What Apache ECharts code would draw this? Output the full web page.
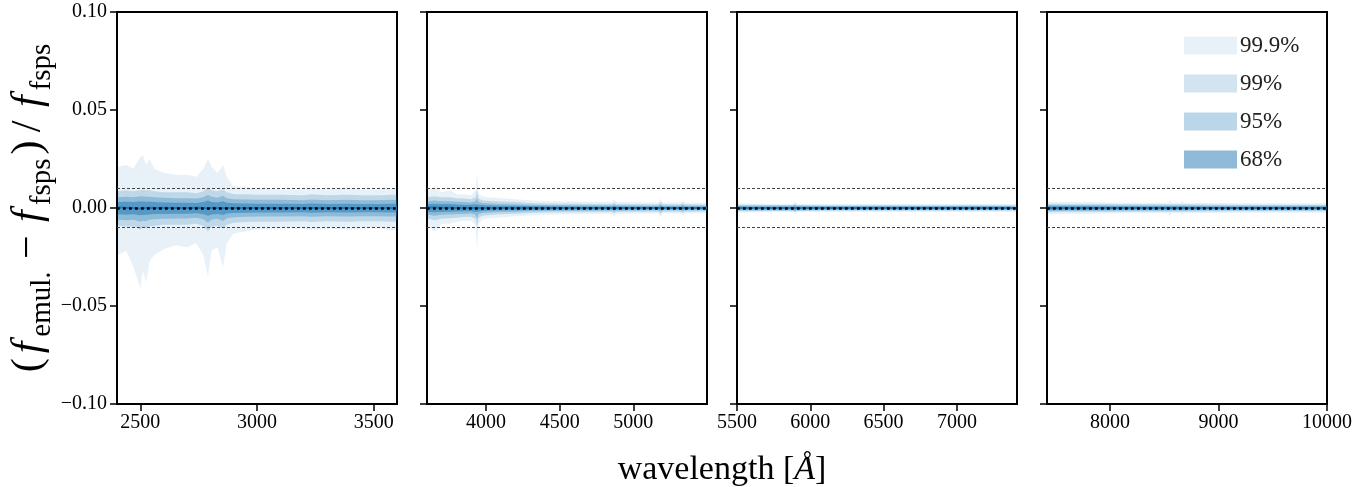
<!DOCTYPE html>
<html>
<head>
<meta charset="utf-8">
<script src="https://cdn.jsdelivr.net/npm/echarts@6/dist/echarts.min.js"></script>
<style>
  html, body { margin: 0; padding: 0; background: #fff; }
  #chart { width: 1366px; height: 487px; }
</style>
</head>
<body>
<div id="chart"></div>
<script>
// band levels (legend)
const levels = ['99.9%', '99%', '95%', '68%'];

// panel x ranges [min, max] and labelled ticks
const xMins = [2400, 3600, 5500, 7420];
const xMaxs = [3600, 5500, 7410, 10000];
const xTicks = [
  [2500, 3000, 3500],
  [4000, 4500, 5000],
  [5500, 6000, 6500, 7000],
  [8000, 9000, 10000]
];
const yTicks = [-0.10, -0.05, 0.00, 0.05, 0.10];

// ---- panel 1 (2400 - 3600)
const wave1 = [2404, 2440, 2470, 2500, 2511, 2525, 2540, 2560, 2600, 2650, 2700, 2740, 2770, 2790, 2805, 2830, 2855, 2870, 2900, 2950, 3000, 3100, 3200, 3230, 3300, 3390, 3450, 3520, 3585, 3600];
const up999_1 = [0.021, 0.022, 0.020, 0.026, 0.027, 0.022, 0.025, 0.020, 0.018, 0.017, 0.017, 0.016, 0.020, 0.025, 0.021, 0.018, 0.022, 0.016, 0.011, 0.0105, 0.010, 0.0095, 0.0095, 0.0105, 0.0095, 0.0105, 0.0095, 0.0095, 0.010, 0.0095];
const lo999_1 = [-0.024, -0.022, -0.030, -0.041, -0.032, -0.038, -0.027, -0.024, -0.021, -0.019, -0.020, -0.018, -0.024, -0.035, -0.022, -0.020, -0.030, -0.018, -0.013, -0.012, -0.011, -0.0105, -0.0105, -0.011, -0.0105, -0.011, -0.0105, -0.010, -0.0115, -0.0105];
const up99_1 = [0.0085, 0.009, 0.0085, 0.009, 0.0095, 0.009, 0.009, 0.0085, 0.008, 0.008, 0.008, 0.0075, 0.0085, 0.0105, 0.009, 0.0085, 0.0095, 0.008, 0.007, 0.007, 0.0068, 0.0068, 0.0065, 0.007, 0.0065, 0.0068, 0.0065, 0.0065, 0.0068, 0.0065];
const lo99_1 = [-0.009, -0.0095, -0.0095, -0.011, -0.010, -0.0105, -0.0095, -0.009, -0.0085, -0.0085, -0.0085, -0.008, -0.009, -0.012, -0.0095, -0.009, -0.0105, -0.0085, -0.0075, -0.0072, -0.007, -0.007, -0.0068, -0.0072, -0.0068, -0.007, -0.0068, -0.0068, -0.007, -0.0068];
const up95_1 = [0.0055, 0.0058, 0.0055, 0.006, 0.006, 0.0058, 0.0058, 0.0055, 0.0052, 0.005, 0.005, 0.0048, 0.0055, 0.0068, 0.0058, 0.0052, 0.0062, 0.005, 0.0045, 0.0044, 0.0042, 0.0042, 0.004, 0.0043, 0.004, 0.0042, 0.004, 0.004, 0.0042, 0.004];
const lo95_1 = [-0.006, -0.0062, -0.006, -0.007, -0.0065, -0.0068, -0.006, -0.0058, -0.0055, -0.0053, -0.0053, -0.005, -0.0058, -0.0075, -0.006, -0.0055, -0.0066, -0.0052, -0.0047, -0.0045, -0.0044, -0.0044, -0.0042, -0.0045, -0.0042, -0.0044, -0.0042, -0.0042, -0.0044, -0.0042];
const up68_1 = [0.003, 0.0032, 0.003, 0.0034, 0.0033, 0.0032, 0.0032, 0.003, 0.0028, 0.0027, 0.0027, 0.0026, 0.003, 0.0038, 0.0031, 0.0028, 0.0034, 0.0027, 0.0024, 0.0023, 0.0022, 0.0022, 0.0021, 0.0023, 0.0021, 0.0022, 0.0021, 0.0021, 0.0022, 0.0021];
const lo68_1 = [-0.0032, -0.0034, -0.0032, -0.0037, -0.0035, -0.0035, -0.0033, -0.0031, -0.003, -0.0029, -0.0029, -0.0027, -0.0032, -0.004, -0.0033, -0.003, -0.0036, -0.0028, -0.0025, -0.0024, -0.0023, -0.0023, -0.0022, -0.0024, -0.0022, -0.0023, -0.0022, -0.0022, -0.0023, -0.0022];
const med1 = [0.0002, 0.0001, 0.0, -0.0002, 0.0001, 0.0, 0.0001, 0.0, 0.0001, 0.0, 0.0, 0.0001, 0.0, -0.0003, 0.0001, 0.0, -0.0001, 0.0, 0.0, 0.0, 0.0, 0.0, 0.0, 0.0, 0.0, 0.0, 0.0, 0.0, 0.0, 0.0];

// ---- panel 2 (3600 - 5500)
const wave2 = [3605, 3650, 3700, 3760, 3800, 3850, 3900, 3930, 3940, 3950, 3975, 4000, 4100, 4200, 4300, 4400, 4600, 4800, 4855, 4870, 4885, 5100, 5170, 5185, 5200, 5320, 5335, 5350, 5450, 5500];
const up999_2 = [0.009, 0.011, 0.008, 0.009, 0.007, 0.007, 0.0065, 0.009, 0.0185, 0.007, 0.006, 0.0055, 0.005, 0.0045, 0.004, 0.0035, 0.0033, 0.003, 0.003, 0.0045, 0.003, 0.0028, 0.0028, 0.0048, 0.0028, 0.0028, 0.004, 0.0028, 0.0027, 0.0027];
const lo999_2 = [-0.009, -0.012, -0.008, -0.008, -0.007, -0.0065, -0.0065, -0.009, -0.021, -0.008, -0.006, -0.0055, -0.0048, -0.0042, -0.0038, -0.0034, -0.0032, -0.003, -0.003, -0.0042, -0.003, -0.0028, -0.0028, -0.0045, -0.0028, -0.0028, -0.0038, -0.0028, -0.0027, -0.0027];
const up99_2 = [0.0055, 0.006, 0.0055, 0.0055, 0.005, 0.0048, 0.0045, 0.0055, 0.009, 0.0048, 0.004, 0.0037, 0.0033, 0.003, 0.0026, 0.0023, 0.0022, 0.002, 0.002, 0.0028, 0.002, 0.0019, 0.0019, 0.003, 0.0019, 0.0019, 0.0026, 0.0019, 0.0018, 0.0018];
const lo99_2 = [-0.0055, -0.0062, -0.0055, -0.0052, -0.005, -0.0046, -0.0045, -0.0056, -0.010, -0.005, -0.004, -0.0037, -0.0032, -0.0029, -0.0026, -0.0023, -0.0022, -0.002, -0.002, -0.0027, -0.002, -0.0019, -0.0019, -0.0029, -0.0019, -0.0019, -0.0025, -0.0019, -0.0018, -0.0018];
const up95_2 = [0.0035, 0.0038, 0.0035, 0.0035, 0.0032, 0.003, 0.0028, 0.0034, 0.005, 0.003, 0.0026, 0.0024, 0.0021, 0.0019, 0.0017, 0.0015, 0.0014, 0.0013, 0.0013, 0.0018, 0.0013, 0.0012, 0.0012, 0.0019, 0.0012, 0.0012, 0.0016, 0.0012, 0.0012, 0.0012];
const lo95_2 = [-0.0035, -0.0039, -0.0035, -0.0033, -0.0032, -0.003, -0.0028, -0.0035, -0.0055, -0.0031, -0.0026, -0.0024, -0.0021, -0.0019, -0.0017, -0.0015, -0.0014, -0.0013, -0.0013, -0.0017, -0.0013, -0.0012, -0.0012, -0.0018, -0.0012, -0.0012, -0.0015, -0.0012, -0.0012, -0.0012];
const up68_2 = [0.002, 0.0022, 0.002, 0.002, 0.0018, 0.0017, 0.0016, 0.0019, 0.0028, 0.0017, 0.0015, 0.0014, 0.0012, 0.0011, 0.001, 0.0009, 0.0008, 0.0008, 0.0008, 0.001, 0.0008, 0.0007, 0.0007, 0.0011, 0.0007, 0.0007, 0.0009, 0.0007, 0.0007, 0.0007];
const lo68_2 = [-0.002, -0.0022, -0.002, -0.0019, -0.0018, -0.0017, -0.0016, -0.002, -0.003, -0.0018, -0.0015, -0.0014, -0.0012, -0.0011, -0.001, -0.0009, -0.0008, -0.0008, -0.0008, -0.001, -0.0008, -0.0007, -0.0007, -0.001, -0.0007, -0.0007, -0.0009, -0.0007, -0.0007, -0.0007];
const med2 = [0.0002, 0.0003, 0.0001, 0.0001, 0.0, 0.0001, 0.0, 0.0, 0.0, 0.0, 0.0, 0.0, 0.0, 0.0, 0.0, 0.0, 0.0, 0.0, 0.0, 0.0, 0.0, 0.0, 0.0, 0.0, 0.0, 0.0, 0.0, 0.0, 0.0, 0.0];

// ---- panel 3 (5500 - 7410)
const wave3 = [5505, 5600, 5750, 5880, 5895, 5910, 6100, 6300, 6500, 6700, 6900, 7100, 7300, 7405];
const up999_3 = [0.0024, 0.0022, 0.0021, 0.0021, 0.0032, 0.0021, 0.002, 0.002, 0.0021, 0.002, 0.002, 0.0021, 0.002, 0.002];
const lo999_3 = [-0.0024, -0.0022, -0.0021, -0.0021, -0.003, -0.0021, -0.002, -0.002, -0.002, -0.002, -0.002, -0.002, -0.002, -0.002];
const up99_3 = [0.0017, 0.0016, 0.0015, 0.0015, 0.0022, 0.0015, 0.0014, 0.0014, 0.0015, 0.0014, 0.0014, 0.0015, 0.0014, 0.0014];
const lo99_3 = [-0.0017, -0.0016, -0.0015, -0.0015, -0.0021, -0.0015, -0.0014, -0.0014, -0.0014, -0.0014, -0.0014, -0.0014, -0.0014, -0.0014];
const up95_3 = [0.0012, 0.0011, 0.0011, 0.0011, 0.0015, 0.0011, 0.001, 0.001, 0.001, 0.001, 0.001, 0.001, 0.001, 0.001];
const lo95_3 = [-0.0012, -0.0011, -0.0011, -0.0011, -0.0015, -0.0011, -0.001, -0.001, -0.001, -0.001, -0.001, -0.001, -0.001, -0.001];
const up68_3 = [0.0008, 0.0007, 0.0007, 0.0007, 0.0009, 0.0007, 0.0006, 0.0006, 0.0006, 0.0006, 0.0006, 0.0006, 0.0006, 0.0006];
const lo68_3 = [-0.0008, -0.0007, -0.0007, -0.0007, -0.0009, -0.0007, -0.0006, -0.0006, -0.0006, -0.0006, -0.0006, -0.0006, -0.0006, -0.0006];
const med3 = [0.0, 0.0, 0.0, 0.0, 0.0, 0.0, 0.0, 0.0, 0.0, 0.0, 0.0, 0.0, 0.0, 0.0];

// ---- panel 4 (7420 - 10000)
const wave4 = [7425, 7600, 7800, 8000, 8200, 8400, 8540, 8555, 8570, 8650, 8665, 8680, 8900, 9200, 9500, 9800, 9995];
const up999_4 = [0.0032, 0.003, 0.0031, 0.0028, 0.0027, 0.0027, 0.0027, 0.0042, 0.0027, 0.0027, 0.004, 0.0027, 0.0025, 0.0024, 0.0024, 0.0024, 0.0024];
const lo999_4 = [-0.0032, -0.003, -0.003, -0.0028, -0.0027, -0.0027, -0.0027, -0.004, -0.0027, -0.0027, -0.0038, -0.0027, -0.0025, -0.0024, -0.0024, -0.0024, -0.0024];
const up99_4 = [0.0022, 0.0021, 0.0021, 0.002, 0.0019, 0.0019, 0.0019, 0.0028, 0.0019, 0.0019, 0.0027, 0.0019, 0.0018, 0.0017, 0.0017, 0.0017, 0.0017];
const lo99_4 = [-0.0022, -0.0021, -0.0021, -0.002, -0.0019, -0.0019, -0.0019, -0.0027, -0.0019, -0.0019, -0.0026, -0.0019, -0.0018, -0.0017, -0.0017, -0.0017, -0.0017];
const up95_4 = [0.0015, 0.0014, 0.0014, 0.0013, 0.0013, 0.0013, 0.0013, 0.0018, 0.0013, 0.0013, 0.0017, 0.0013, 0.0012, 0.0012, 0.0012, 0.0012, 0.0012];
const lo95_4 = [-0.0015, -0.0014, -0.0014, -0.0013, -0.0013, -0.0013, -0.0013, -0.0018, -0.0013, -0.0013, -0.0017, -0.0013, -0.0012, -0.0012, -0.0012, -0.0012, -0.0012];
const up68_4 = [0.0009, 0.0009, 0.0009, 0.0008, 0.0008, 0.0008, 0.0008, 0.0011, 0.0008, 0.0008, 0.001, 0.0008, 0.0007, 0.0007, 0.0007, 0.0007, 0.0007];
const lo68_4 = [-0.0009, -0.0009, -0.0009, -0.0008, -0.0008, -0.0008, -0.0008, -0.0011, -0.0008, -0.0008, -0.001, -0.0008, -0.0007, -0.0007, -0.0007, -0.0007, -0.0007];
const med4 = [0.0, 0.0, 0.0, 0.0, 0.0, 0.0, 0.0, 0.0, 0.0, 0.0, 0.0, 0.0, 0.0, 0.0, 0.0, 0.0, 0.0];

// reference lines
const tolLines = [0.01, -0.01];

const panels = [
  { wave: wave1, bands: [[up999_1, lo999_1], [up99_1, lo99_1], [up95_1, lo95_1], [up68_1, lo68_1]], med: med1 },
  { wave: wave2, bands: [[up999_2, lo999_2], [up99_2, lo99_2], [up95_2, lo95_2], [up68_2, lo68_2]], med: med2 },
  { wave: wave3, bands: [[up999_3, lo999_3], [up99_3, lo99_3], [up95_3, lo95_3], [up68_3, lo68_3]], med: med3 },
  { wave: wave4, bands: [[up999_4, lo999_4], [up99_4, lo99_4], [up95_4, lo95_4], [up68_4, lo68_4]], med: med4 }
];

const FONT = "'Liberation Serif', 'DejaVu Serif', serif";
const bandColors = ['rgba(31,119,180,0.1)', 'rgba(31,119,180,0.2)', 'rgba(31,119,180,0.3)', 'rgba(31,119,180,0.5)'];
const gridLefts = [117, 427, 737, 1047];

const fmtY = (v) => {
  if (Math.abs(v) < 1e-9) return '0.00';
  return (v < 0 ? '\u2212' : '') + Math.abs(v).toFixed(2);
};

const chart = echarts.init(document.getElementById('chart'), null, { renderer: 'canvas' });

const grids = gridLefts.map((l) => ({
  left: l, top: 12, width: 280, height: 392,
  show: true, borderColor: '#000', borderWidth: 2, backgroundColor: 'transparent'
}));

const xAxes = gridLefts.map((l, i) => ({
  type: 'value', gridIndex: i, min: xMins[i], max: xMaxs[i],
  splitLine: { show: false },
  axisLine: { show: true, onZero: false, lineStyle: { color: '#000', width: 2 } },
  axisTick: { show: true, length: 7, lineStyle: { color: '#000', width: 1.5 }, customValues: xTicks[i] },
  axisLabel: { show: true, margin: 9, color: '#000', fontSize: 20, fontFamily: FONT, customValues: xTicks[i], formatter: (v) => String(v) }
}));

const yAxes = gridLefts.map((l, i) => ({
  type: 'value', gridIndex: i, min: -0.1, max: 0.1, interval: 0.05,
  splitLine: { show: false },
  axisLine: { show: true, onZero: false, lineStyle: { color: '#000', width: 2 } },
  axisTick: { show: true, length: 7, lineStyle: { color: '#000', width: 1.5 } },
  axisLabel: { show: i === 0, margin: 10, color: '#000', fontSize: 20, fontFamily: FONT, formatter: fmtY }
}));

yAxes[0].name = '{p|(}{f|f}{s|emul.}{p|\u2009\u2212\u2009}{f|f}{s|fsps}{p|)\u2009/\u2009}{f|f}{s|fsps}';
yAxes[0].nameLocation = 'middle';
yAxes[0].nameRotate = 90;
yAxes[0].nameGap = 60;
yAxes[0].nameTextStyle = {
  fontFamily: FONT, color: '#000',
  rich: {
    p: { fontFamily: FONT, fontSize: 42, lineHeight: 44, verticalAlign: 'top', color: '#000', padding: [0, 2, 0, 2] },
    f: { fontFamily: FONT, fontSize: 42, fontStyle: 'italic', lineHeight: 44, verticalAlign: 'top', padding: [0, 5, 0, 3], color: '#000' },
    s: { fontFamily: FONT, fontSize: 29, lineHeight: 30, verticalAlign: 'top', padding: [20, 2, 0, 0], color: '#000' }
  }
};

const series = [];

// empty series that only feed the legend swatches
levels.forEach((name, k) => {
  series.push({
    type: 'bar', name: name, xAxisIndex: 3, yAxisIndex: 3, data: [],
    itemStyle: { color: bandColors[k] }
  });
});

panels.forEach((p, i) => {
  p.bands.forEach((pair, k) => {
    pair.forEach((vals, side) => {
      series.push({
        type: 'line',
        name: 'band' + i + '_' + k + '_' + side,
        xAxisIndex: i, yAxisIndex: i,
        data: p.wave.map((w, j) => [w, vals[j]]),
        symbol: 'none', silent: true,
        lineStyle: { width: 0, opacity: 0 },
        areaStyle: { color: bandColors[k], opacity: 1 },
        z: 2
      });
    });
  });
  series.push({
    type: 'line',
    name: 'median' + i,
    xAxisIndex: i, yAxisIndex: i,
    data: p.wave.map((w, j) => [w, p.med[j]]),
    symbol: 'none', silent: true,
    lineStyle: { color: '#1f77b4', width: 2 },
    z: 3,
    markLine: {
      silent: true, symbol: 'none', animation: false,
      label: { show: false },
      data: [
        { yAxis: tolLines[0], lineStyle: { color: '#444', width: 1, type: [3, 2] } },
        { yAxis: tolLines[1], lineStyle: { color: '#444', width: 1, type: [3, 2] } },
        { yAxis: 0, lineStyle: { color: '#000', width: 2.7, type: [2.7, 3.3] } }
      ]
    }
  });
});

chart.setOption({
  animation: false,
  backgroundColor: '#fff',
  grid: grids,
  xAxis: xAxes,
  yAxis: yAxes,
  legend: {
    data: levels,
    orient: 'vertical',
    left: 1184, top: 34,
    itemWidth: 53, itemHeight: 18, itemGap: 15,
    icon: 'rect', selectedMode: false, padding: 0,
    textStyle: { fontFamily: FONT, fontSize: 23, color: '#222', padding: [0, 0, 0, -2] }
  },
  graphic: [{
    type: 'text', x: 722, y: 470,
    style: {
      text: '{n|wavelength [}{a|\u00C5}{n|]}',
      align: 'center', verticalAlign: 'middle',
      rich: {
        n: { fontFamily: FONT, fontSize: 34, fill: '#000', color: '#000' },
        a: { fontFamily: FONT, fontSize: 34, fontStyle: 'italic', fill: '#000', color: '#000' }
      }
    }
  }],
  series: series
});
</script>
</body>
</html>
